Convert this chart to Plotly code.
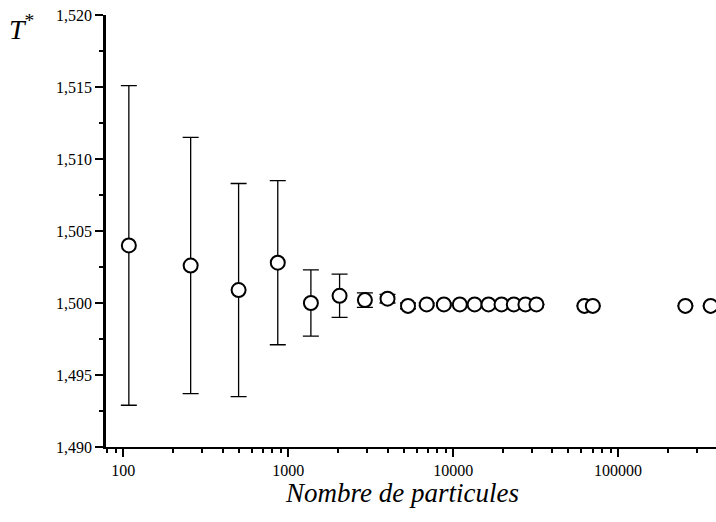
import plotly.graph_objects as go
import numpy as np

# Data
particles = [108, 256, 500, 864, 1372, 2048, 2916, 4000, 5324, 6912, 8788,
             10976, 13500, 16384, 19652, 23328, 27436, 32000,
             62500, 70304, 256000, 364500]
t_star = [1.5040, 1.5026, 1.5009, 1.5028, 1.5000, 1.5005, 1.5002, 1.5003,
          1.4998, 1.4999, 1.4999, 1.4999, 1.4999, 1.4999, 1.4999, 1.4999,
          1.4999, 1.4999, 1.4998, 1.4998, 1.4998, 1.4998]
t_err = [0.0111, 0.0089, 0.0074, 0.0057, 0.0023, 0.0015, 0.0005, 0.0003,
         0.0002, 0.0001, 0.0001, 0, 0, 0, 0, 0, 0, 0, 0, 0, 0, 0]

x_tickvals = [100, 1000, 10000, 100000]
x_ticktext = ["100", "1000", "10000", "100000"]
y_tickvals = [1.490, 1.495, 1.500, 1.505, 1.510, 1.515, 1.520]
y_ticktext = ["1,490", "1,495", "1,500", "1,505", "1,510", "1,515", "1,520"]

x_minor = [m * d for d in (10, 100, 1000, 10000, 100000) for m in range(2, 10)]

FONT = "Liberation Serif"

fig = go.Figure()
fig.add_trace(go.Scatter(
    x=particles, y=t_star, mode="markers",
    marker=dict(symbol="circle", size=14, color="white",
                line=dict(color="black", width=2)),
    error_y=dict(type="data", array=t_err, visible=True,
                 color="black", thickness=1.3, width=8),
    showlegend=False,
))

fig.update_layout(
    width=716, height=522,
    margin=dict(l=106, r=0, t=15, b=75),
    paper_bgcolor="white", plot_bgcolor="white",
    font=dict(family=FONT, color="black"),
    xaxis=dict(
        type="log", range=[np.log10(78.5), 5.594],
        tickvals=x_tickvals, ticktext=x_ticktext,
        ticks="outside", ticklen=8, tickwidth=2, tickcolor="black",
        showline=True, linewidth=2, linecolor="black",
        showgrid=False, zeroline=False,
        tickfont=dict(family=FONT, size=16),
        minor=dict(tickvals=x_minor, ticks="outside", ticklen=4,
                   tickwidth=1.5, tickcolor="black", showgrid=False),
    ),
    yaxis=dict(
        range=[1.490, 1.520],
        tickvals=y_tickvals, ticktext=y_ticktext,
        ticks="outside", ticklen=8, tickwidth=2, tickcolor="black",
        showline=True, linewidth=2.5, linecolor="black",
        showgrid=False, zeroline=False,
        tickfont=dict(family=FONT, size=16),
        minor=dict(dtick=0.0025, ticks="outside", ticklen=4,
                   tickwidth=1.5, tickcolor="black", showgrid=False),
    ),
    annotations=[
        dict(text="<i>Nombre de particules</i>", xref="paper", yref="paper",
             x=0.485, y=-0.067, xanchor="center", yanchor="top",
             showarrow=False, font=dict(family=FONT, size=27)),
        dict(text="<i>T</i><sup>*</sup>", xref="paper", yref="paper",
             x=-0.162, y=1.016, xanchor="left", yanchor="top",
             showarrow=False, font=dict(family=FONT, size=28)),
    ],
)

fig.write_html(
    "out.html",
    config={"displayModeBar": False},
    post_script="document.body.style.margin='0px';"
                "document.body.style.overflow='hidden';",
)
